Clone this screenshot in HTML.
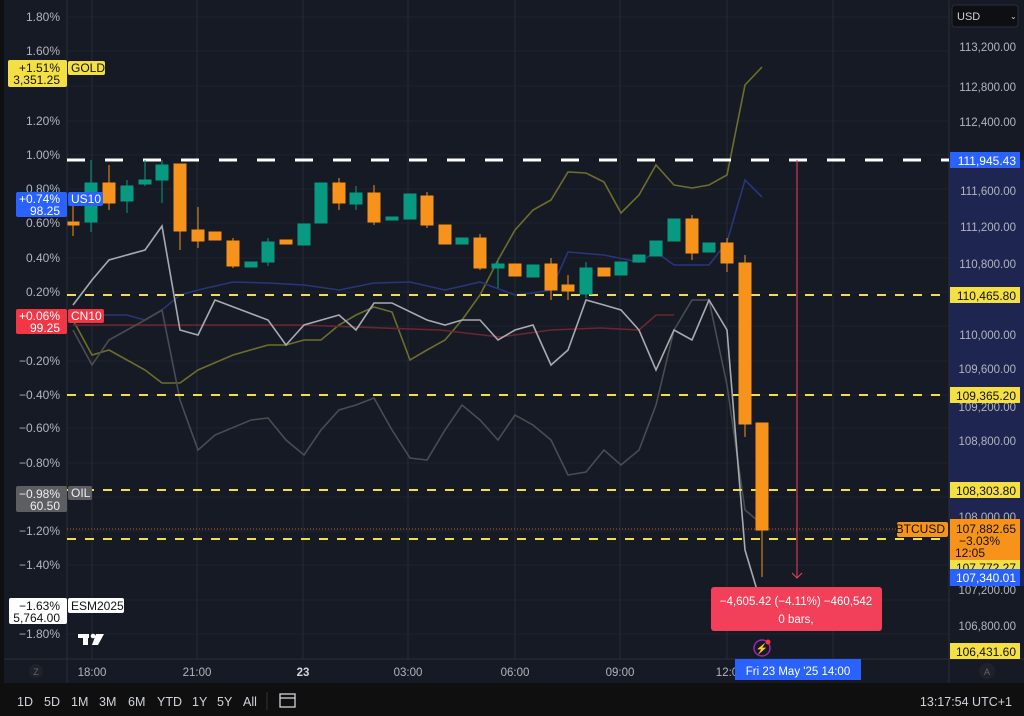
<!DOCTYPE html>
<html><head><meta charset="utf-8"><style>
html,body{margin:0;padding:0;background:#0f0f0f;}
svg{display:block;font-family:"Liberation Sans",sans-serif;}
</style></head><body>
<svg width="1024" height="716" viewBox="0 0 1024 716">
<rect width="1024" height="716" fill="#0f0f0f"/>
<rect x="4" y="0" width="1020" height="683" fill="#161a25"/>
<rect x="949" y="160" width="75" height="426" fill="#1e2550"/>
<g stroke="#1f2330" stroke-width="1">
<line x1="67" y1="17" x2="949" y2="17"/><line x1="67" y1="51" x2="949" y2="51"/><line x1="67" y1="86" x2="949" y2="86"/><line x1="67" y1="121" x2="949" y2="121"/><line x1="67" y1="155" x2="949" y2="155"/><line x1="67" y1="189" x2="949" y2="189"/><line x1="67" y1="223" x2="949" y2="223"/><line x1="67" y1="258" x2="949" y2="258"/><line x1="67" y1="292" x2="949" y2="292"/><line x1="67" y1="326" x2="949" y2="326"/><line x1="67" y1="361" x2="949" y2="361"/><line x1="67" y1="395" x2="949" y2="395"/><line x1="67" y1="428" x2="949" y2="428"/><line x1="67" y1="463" x2="949" y2="463"/><line x1="67" y1="497" x2="949" y2="497"/><line x1="67" y1="531" x2="949" y2="531"/><line x1="67" y1="565" x2="949" y2="565"/><line x1="67" y1="600" x2="949" y2="600"/><line x1="67" y1="634" x2="949" y2="634"/>
</g>
<g stroke="#262a35" stroke-width="1">
<line x1="92" y1="0" x2="92" y2="659"/><line x1="197" y1="0" x2="197" y2="659"/><line x1="303" y1="0" x2="303" y2="659"/><line x1="408" y1="0" x2="408" y2="659"/><line x1="515" y1="0" x2="515" y2="659"/><line x1="620" y1="0" x2="620" y2="659"/><line x1="727" y1="0" x2="727" y2="659"/><line x1="833" y1="0" x2="833" y2="659"/>
</g>
<line x1="67" y1="0" x2="67" y2="683" stroke="#2a2e39"/>
<line x1="949" y1="0" x2="949" y2="683" stroke="#2a2e39"/>
<line x1="4" y1="659" x2="1024" y2="659" stroke="#2a2e39"/>
<polyline fill="none" stroke="#6e6e2a" stroke-width="1.6" points="73,320 92,355 109,350 127,360 145,370 162,383 180,383 198,370 233,355 268,345 286,345 304,340 321,340 339,325 356,315 374,307 392,312 410,360 427,350 445,340 462,320 480,295 498,260 515,230 533,210 551,200 568,172 586,173 604,182 621,213 639,195 656,165 674,185 692,188 709,185 727,175 745,85 762,67"/>
<polyline fill="none" stroke="#28357a" stroke-width="1.6" points="73,315 127,315 145,320 162,310 180,295 198,290 233,282 268,283 304,285 339,290 374,283 410,282 445,290 480,282 515,295 533,293 551,290 568,252 604,255 639,262 656,252 674,265 709,265 727,242 745,180 762,197"/>
<polyline fill="none" stroke="#6b2630" stroke-width="1.6" points="73,325 200,325 300,325 440,330 500,337 551,330 600,328 639,330 656,315 674,315"/>
<polyline fill="none" stroke="#4a4c52" stroke-width="1.6" points="73,330 92,365 109,340 127,330 145,320 162,310 180,400 198,450 215,435 251,420 268,418 286,440 304,455 321,430 339,410 356,405 374,398 392,430 410,458 427,460 445,430 462,405 480,420 498,440 515,415 533,425 551,440 568,475 586,472 604,450 621,465 639,450 656,405 674,330 692,300 709,300 727,385 745,510 757,520"/>
<polyline fill="none" stroke="#a8aab0" stroke-width="1.6" points="73,305 92,280 109,260 145,250 162,226 180,330 198,335 215,300 268,320 286,345 304,325 339,315 356,330 374,303 392,303 427,320 445,325 462,320 480,320 498,340 515,330 533,325 551,365 568,350 586,300 604,305 621,310 639,330 656,370 674,330 692,340 709,300 727,330 745,550 757,590"/>
<line x1="67" y1="160" x2="949" y2="160" stroke="#fff" stroke-width="3" stroke-dasharray="18,20"/>
<g stroke="#f0e040" stroke-width="2" stroke-dasharray="9,9">
<line x1="67" y1="295" x2="949" y2="295"/><line x1="67" y1="395" x2="949" y2="395"/><line x1="67" y1="490" x2="949" y2="490"/><line x1="67" y1="539" x2="949" y2="539"/>
</g>
<line x1="67" y1="529" x2="949" y2="529" stroke="#c06020" stroke-width="1" stroke-dasharray="1,2"/>
<g stroke-width="1">
<g stroke="#f7931a" fill="#f7931a">
<line x1="73" y1="206" x2="73" y2="236"/><rect x="68" y="222" width="11" height="3"/>
<line x1="109" y1="165" x2="109" y2="210"/><rect x="103" y="183" width="12" height="20"/>
<line x1="180" y1="164" x2="180" y2="250"/><rect x="174" y="164" width="12" height="67"/>
<line x1="198" y1="207" x2="198" y2="248"/><rect x="192" y="230" width="12" height="11"/>
<rect x="209" y="232" width="12" height="8"/>
<line x1="233" y1="238" x2="233" y2="268"/><rect x="227" y="241" width="12" height="25"/>
<rect x="280" y="240" width="12" height="4"/>
<line x1="339" y1="178" x2="339" y2="210"/><rect x="333" y="183" width="12" height="20"/>
<line x1="374" y1="185" x2="374" y2="225"/><rect x="368" y="193" width="12" height="29"/>
<line x1="427" y1="192" x2="427" y2="228"/><rect x="421" y="196" width="12" height="29"/>
<rect x="439" y="225" width="12" height="19"/>
<line x1="480" y1="234" x2="480" y2="270"/><rect x="474" y="238" width="12" height="30"/>
<rect x="509" y="264" width="12" height="12"/>
<line x1="551" y1="258" x2="551" y2="300"/><rect x="545" y="264" width="12" height="26"/>
<line x1="568" y1="275" x2="568" y2="300"/><rect x="562" y="285" width="12" height="6"/>
<rect x="598" y="268" width="12" height="8"/>
<line x1="692" y1="215" x2="692" y2="260"/><rect x="686" y="219" width="12" height="34"/>
<line x1="727" y1="238" x2="727" y2="272"/><rect x="721" y="243" width="12" height="20"/>
<line x1="745" y1="255" x2="745" y2="437"/><rect x="739" y="263" width="12" height="161"/>
<line x1="762" y1="423" x2="762" y2="577"/><rect x="756" y="423" width="12" height="107"/>
</g>
<g stroke="#089981" fill="#089981">
<line x1="91" y1="160" x2="91" y2="232"/><rect x="85" y="183" width="12" height="39"/>
<line x1="127" y1="180" x2="127" y2="213"/><rect x="121" y="186" width="12" height="15"/>
<line x1="145" y1="160" x2="145" y2="186"/><rect x="139" y="180" width="12" height="4"/>
<line x1="162" y1="160" x2="162" y2="203"/><rect x="156" y="165" width="12" height="15"/>
<rect x="245" y="262" width="12" height="5"/>
<line x1="268" y1="238" x2="268" y2="266"/><rect x="262" y="242" width="12" height="20"/>
<rect x="298" y="224" width="12" height="21"/>
<rect x="315" y="183" width="12" height="40"/>
<line x1="356" y1="186" x2="356" y2="210"/><rect x="350" y="193" width="12" height="11"/>
<rect x="386" y="217" width="12" height="3"/>
<rect x="404" y="194" width="12" height="25"/>
<rect x="456" y="238" width="12" height="6"/>
<line x1="498" y1="260" x2="498" y2="288"/><rect x="492" y="264" width="12" height="4"/>
<rect x="527" y="265" width="12" height="12"/>
<line x1="586" y1="262" x2="586" y2="298"/><rect x="580" y="268" width="12" height="26"/>
<rect x="615" y="262" width="12" height="13"/>
<rect x="633" y="255" width="12" height="7"/>
<rect x="650" y="241" width="12" height="15"/>
<rect x="668" y="219" width="12" height="22"/>
<rect x="703" y="243" width="12" height="9"/>
</g>
</g>
<line x1="797" y1="160" x2="797" y2="578" stroke="#f23f5a" stroke-width="1"/>
<polyline points="792,573 797,578 802,573" fill="none" stroke="#f23f5a"/>
<rect x="711" y="587" width="171" height="44" rx="3" fill="#f23f5a"/>
<text x="796" y="605" fill="#fff" font-size="11.5" text-anchor="middle">−4,605.42 (−4.11%) −460,542</text>
<text x="796" y="623" fill="#fff" font-size="11.5" text-anchor="middle">0 bars,</text>
<circle cx="762" cy="648" r="8" fill="none" stroke="#9c27b0" stroke-width="1.5"/>
<text x="762" y="652" fill="#9c27b0" font-size="10" text-anchor="middle">⚡</text>
<circle cx="768" cy="642" r="2.5" fill="#f23645"/>
<g fill="#fff">
<rect x="78" y="634" width="11" height="4"/><rect x="83" y="634" width="5" height="11"/>
<circle cx="93" cy="636" r="2.3"/><polygon points="96,634 104,634 98,645 92,645"/>
</g>
<g fill="#b2b5be" font-size="12" text-anchor="end">
<text x="60" y="21">1.80%</text><text x="60" y="55">1.60%</text><text x="60" y="125">1.20%</text><text x="60" y="159">1.00%</text><text x="60" y="193">0.80%</text><text x="60" y="227">0.60%</text><text x="60" y="262">0.40%</text><text x="60" y="296">0.20%</text><text x="60" y="365">−0.20%</text><text x="60" y="399">−0.40%</text><text x="60" y="432">−0.60%</text><text x="60" y="467">−0.80%</text><text x="60" y="535">−1.20%</text><text x="60" y="569">−1.40%</text><text x="60" y="638">−1.80%</text>
</g>
<g font-size="12">
<rect x="8" y="60" width="59" height="27" rx="2" fill="#f5e043"/><text x="60" y="72" text-anchor="end" fill="#111">+1.51%</text><text x="60" y="84" text-anchor="end" fill="#111">3,351.25</text>
<rect x="68" y="61" width="37" height="14" rx="2" fill="#f5e043"/><text x="71" y="72" fill="#111">GOLD</text>
<rect x="16" y="192" width="51" height="25" rx="2" fill="#2962ff"/><text x="60" y="203" text-anchor="end" fill="#fff">+0.74%</text><text x="60" y="215" text-anchor="end" fill="#fff">98.25</text>
<rect x="68" y="192" width="35" height="14" rx="2" fill="#2962ff"/><text x="71" y="203" fill="#fff">US10</text>
<rect x="16" y="309" width="51" height="25" rx="2" fill="#f23645"/><text x="60" y="320" text-anchor="end" fill="#fff">+0.06%</text><text x="60" y="332" text-anchor="end" fill="#fff">99.25</text>
<rect x="68" y="309" width="36" height="14" rx="2" fill="#f23645"/><text x="71" y="320" fill="#fff">CN10</text>
<rect x="16" y="486" width="51" height="26" rx="2" fill="#5d5e62"/><text x="60" y="498" text-anchor="end" fill="#eee">−0.98%</text><text x="60" y="510" text-anchor="end" fill="#eee">60.50</text>
<rect x="68" y="486" width="24" height="14" rx="2" fill="#5d5e62"/><text x="71" y="497" fill="#eee">OIL</text>
<rect x="9" y="598" width="58" height="26" rx="2" fill="#fff"/><text x="60" y="610" text-anchor="end" fill="#111">−1.63%</text><text x="60" y="622" text-anchor="end" fill="#111">5,764.00</text>
<rect x="68" y="598" width="56" height="15" rx="2" fill="#fff"/><text x="71" y="610" fill="#111">ESM2025</text>
</g>
<g fill="#b2b5be" font-size="11.5" text-anchor="end">
<text x="1016" y="51">113,200.00</text><text x="1016" y="91">112,800.00</text><text x="1016" y="126">112,400.00</text><text x="1016" y="195">111,600.00</text><text x="1016" y="231">111,200.00</text><text x="1016" y="268">110,800.00</text><text x="1016" y="339">110,000.00</text><text x="1016" y="373">109,600.00</text><text x="1016" y="411">109,200.00</text><text x="1016" y="445">108,800.00</text><text x="1016" y="521">108,000.00</text><text x="1016" y="594">107,200.00</text><text x="1016" y="630">106,800.00</text>
</g>
<rect x="950" y="152" width="70" height="16" fill="#2962ff"/><text x="1016" y="165" font-size="12" text-anchor="end" fill="#fff">111,945.43</text>
<g font-size="12" text-anchor="end" fill="#111">
<rect x="950" y="287" width="70" height="16" fill="#f5e043"/><text x="1016" y="300">110,465.80</text>
<rect x="950" y="387" width="70" height="16" fill="#f5e043"/><text x="1016" y="400">109,365.20</text>
<rect x="950" y="482" width="70" height="16" fill="#f5e043"/><text x="1016" y="495">108,303.80</text>
<rect x="950" y="519" width="70" height="41" fill="#f7931a"/><text x="1016" y="533">107,882.65</text><text x="1000" y="545">−3.03%</text><text x="985" y="557">12:05</text>
<rect x="950" y="560" width="70" height="9" fill="#f5e043"/><text x="1016" y="572">107,772.27</text>
<rect x="897" y="522" width="51" height="15" rx="2" fill="#f7931a"/><text x="945" y="533">BTCUSD</text>
<rect x="950" y="643" width="70" height="16" fill="#f5e043"/><text x="1016" y="656">106,431.60</text>
</g>
<rect x="950" y="569" width="70" height="17" fill="#2962ff"/><text x="1016" y="582" font-size="12" text-anchor="end" fill="#fff">107,340.01</text>
<rect x="952" y="5" width="66" height="22" rx="3" fill="#0e0f12" stroke="#2a2e39"/>
<text x="957" y="20" font-size="11" fill="#d1d4dc">USD</text><text x="1010" y="19" font-size="8" fill="#d1d4dc">⌄</text>
<circle cx="36" cy="671" r="7" fill="#1f222b"/><text x="36" y="675" font-size="9" fill="#666" text-anchor="middle">Z</text>
<g fill="#b2b5be" font-size="11.5" text-anchor="middle">
<text x="92" y="676">18:00</text><text x="197" y="676">21:00</text><text x="303" y="676" font-weight="bold" fill="#d1d4dc">23</text><text x="408" y="676">03:00</text><text x="515" y="676">06:00</text><text x="620" y="676">09:00</text><text x="727" y="676">12:0</text>
</g>
<rect x="735" y="659" width="126" height="21" fill="#2962ff"/><text x="798" y="675" font-size="11.5" text-anchor="middle" fill="#fff">Fri 23 May '25   14:00</text>
<circle cx="987" cy="671" r="8" fill="#1f222b"/><text x="987" y="675" font-size="9" fill="#666" text-anchor="middle">A</text>
<g fill="#d1d4dc" font-size="12.5">
<text x="17" y="706">1D</text><text x="44" y="706">5D</text><text x="71" y="706">1M</text><text x="99" y="706">3M</text><text x="128" y="706">6M</text><text x="157" y="706">YTD</text><text x="192" y="706">1Y</text><text x="217" y="706">5Y</text><text x="243" y="706">All</text>
<text x="1012" y="706" text-anchor="end">13:17:54 UTC+1</text>
</g>
<line x1="267" y1="692" x2="267" y2="710" stroke="#333"/>
<rect x="280" y="694" width="15" height="13" fill="none" stroke="#d1d4dc" stroke-width="1.3"/>
<line x1="280" y1="698" x2="295" y2="698" stroke="#d1d4dc" stroke-width="1.3"/>
</svg>
</body></html>
